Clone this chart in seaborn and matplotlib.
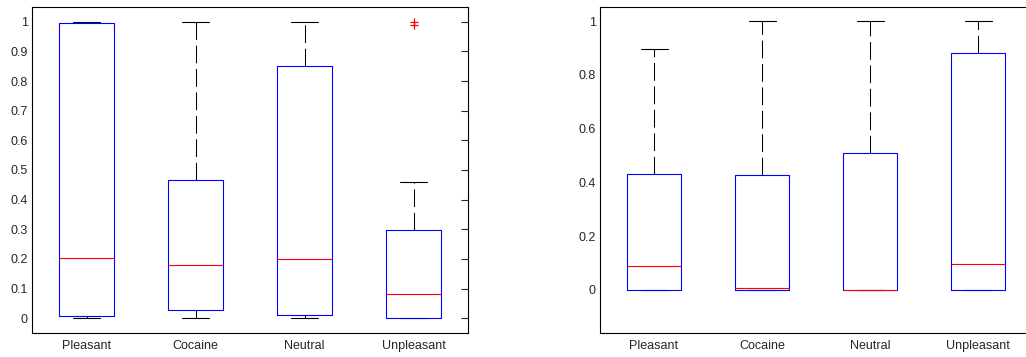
import numpy as np
import pandas as pd
import matplotlib
matplotlib.use("Agg")
import matplotlib.pyplot as plt
import seaborn as sns

# Conditions on the x axis
CATEGORIES = ['Pleasant', 'Cocaine', 'Neutral', 'Unpleasant']

# Left panel: five-number summaries
left_low = [0.0, 0.0, 0.0, 0.0]
left_q1 = [0.007, 0.027, 0.011, 0.0]
left_median = [0.203, 0.179, 0.200, 0.083]
left_q3 = [0.995, 0.465, 0.851, 0.297]
left_high = [1.0, 1.0, 1.0, 0.459]
left_outliers = [0.988, 1.0]   # Unpleasant

# Right panel
right_low = [0.0, 0.0, 0.0, 0.0]
right_q1 = [0.0, 0.0, 0.0, 0.0]
right_median = [0.089, 0.007, 0.0, 0.097]
right_q3 = [0.433, 0.429, 0.511, 0.881]
right_high = [0.896, 1.0, 1.0, 1.0]

LEFT_TICKS = np.round(np.arange(0, 1.01, 0.1), 1)
RIGHT_TICKS = np.round(np.arange(0, 1.01, 0.2), 1)


def summary_frame(low, q1, med, q3, high):
    """Long-form frame: five values per group give exactly these quartiles"""
    rows = []
    for i, cat in enumerate(CATEGORIES):
        for v in (low[i], q1[i], med[i], q3[i], high[i]):
            rows.append({'condition': cat, 'value': v})
    return pd.DataFrame(rows)


def fmt_tick(v):
    return '0' if v == 0 else ('1' if v == 1 else f'{v:g}')


def draw_panel(ax, df, ylim, yticks, right_ticks=True):
    dash = (0, (17, 5.5))
    sns.boxplot(data=df, x='condition', y='value', order=CATEGORIES, ax=ax,
                width=0.5, fill=False, whis=1.5, showfliers=False,
                boxprops=dict(color='#0000ff', linewidth=0.8, zorder=2.2),
                medianprops=dict(color='#ff0000', linewidth=0.8, zorder=2.4),
                whiskerprops=dict(color='black', linewidth=0.75, linestyle=dash,
                                  zorder=2.0),
                capprops=dict(color='black', linewidth=0.8, zorder=2.0))
    ax.set_ylim(*ylim)
    ax.set_yticks(yticks)
    ax.set_yticklabels([fmt_tick(v) for v in yticks])
    ax.set_xlabel('')
    ax.set_ylabel('')
    ax.tick_params(axis='x', length=0, pad=5, labelsize=9)
    ax.tick_params(axis='y', direction='in', length=5, width=0.8, pad=3,
                   labelsize=9, right=right_ticks)
    for s in ax.spines.values():
        s.set_visible(True)
        s.set_color('black')
        s.set_linewidth(0.8)


sns.set_style('white')
plt.rcParams['font.family'] = ['Liberation Sans', 'DejaVu Sans']

fig = plt.figure(figsize=(10.26, 3.57), dpi=100)
ax1 = fig.add_axes([32 / 1026, 24 / 357, 436 / 1026, 326 / 357])
ax2 = fig.add_axes([600 / 1026, 24 / 357, 432 / 1026, 326 / 357])

draw_panel(ax1, summary_frame(left_low, left_q1, left_median, left_q3, left_high),
           (-0.05, 1.05), LEFT_TICKS)
out_df = pd.DataFrame({'condition': ['Unpleasant'] * len(left_outliers),
                       'value': left_outliers})
sns.stripplot(data=out_df, x='condition', y='value', order=CATEGORIES, ax=ax1,
              jitter=False, marker='+', color='red', size=6, linewidth=0.9)
ax1.set_xlabel('')
ax1.set_ylabel('')

draw_panel(ax2, summary_frame(right_low, right_q1, right_median, right_q3, right_high),
           (-0.16, 1.053), RIGHT_TICKS, right_ticks=False)

fig.savefig('out.png', dpi=100)
